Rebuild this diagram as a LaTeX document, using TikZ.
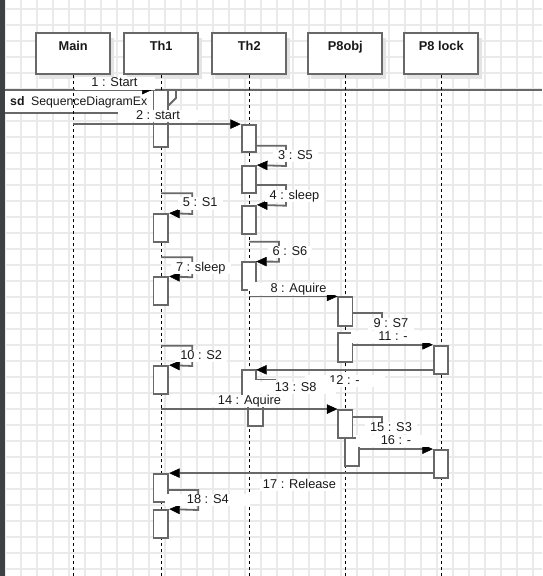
\documentclass[tikz,border=0pt]{standalone}
\usepackage{fontspec}
\setmainfont{Liberation Sans}
\usetikzlibrary{arrows.meta,fit}
\definecolor{gridc}{RGB}{234,234,234}
\definecolor{edgec}{RGB}{104,104,104}
\definecolor{barc}{RGB}{62,65,68}
\definecolor{shadc}{RGB}{228,228,228}
\definecolor{txtc}{RGB}{25,25,25}
\begin{document}
\begin{tikzpicture}[x=1pt,y=-1pt,
  gridline/.style={draw=gridc, line width=1.4pt},
  objbox/.style={draw=edgec, line width=1.8pt, fill=white, inner sep=0pt},
  objtitle/.style={font=\fontsize{12.8}{15}\selectfont\bfseries, text=txtc, inner sep=0pt, anchor=base},
  lifeline/.style={draw=black, line width=1.1pt, dash pattern=on 3pt off 3pt},
  actbox/.style={draw=edgec, line width=1.8pt, fill=white, inner sep=0pt},
  actfill/.style={fill=white, draw=none, inner sep=0pt},
  actedge/.style={draw=edgec, line width=1.8pt},
  msgline/.style={draw=edgec, line width=1.8pt},
  msgarrow/.style={msgline, -{Triangle[length=10.5pt,width=9.5pt,color=black,fill=black,line width=0.5pt]}},
  msglabel/.style={fill=white, text=txtc, font=\fontsize{12.8}{15}\selectfont, inner xsep=5pt, inner ysep=0.5pt, text height=9pt, text depth=2.5pt, anchor=base},
  widelabel/.style={msglabel, minimum width=80pt, inner xsep=0pt}
]
\useasboundingbox (0,0) rectangle (542,576);
\fill[white] (0,0) rectangle (542,576);
% grid
\foreach \gx in {5,21,...,533} \draw[gridline] (\gx,0) -- (\gx,576);
\foreach \gy in {9,25,...,569} \draw[gridline] (0,\gy) -- (542,\gy);
% left bar
\fill[barc] (0,0) rectangle (5,576);

% frame
\draw[msgline] (5,90) -- (542,90);
\draw[actedge, fill=white] (5,90) -- (176,90) -- (176,98) -- (161,113) -- (5,113);
\node[anchor=base west, inner sep=0pt, text=txtc, font=\fontsize{12.3}{15}\selectfont] (sdlabel) at (10,105.5) {\textbf{sd}\hspace{6.5pt}SequenceDiagramEx};

% objects
\fill[shadc] (39.2,38) rectangle (114.2,79);
\fill[shadc] (127.2,38) rectangle (202.2,79);
\fill[shadc] (215.3,38) rectangle (290.3,79);
\fill[shadc] (311.3,38) rectangle (386.3,79);
\fill[shadc] (407.3,38) rectangle (482.3,79);
\node[objbox, fit={(36.2,33) (110.2,74)}] (Main) {};
\node[objbox, fit={(124.2,33) (198.2,74)}] (Th1) {};
\node[objbox, fit={(212.3,33) (286.3,74)}] (Th2) {};
\node[objbox, fit={(308.3,33) (382.3,74)}] (P8obj) {};
\node[objbox, fit={(404.3,33) (478.3,74)}] (P8lock) {};
\node[objtitle] (MainT) at (Main.north |- 0,50.7) {Main};
\node[objtitle] (Th1T) at (Th1.north |- 0,50.7) {Th1};
\node[objtitle] (Th2T) at (Th2.north |- 0,50.7) {Th2};
\node[objtitle] (P8objT) at (P8obj.north |- 0,50.7) {P8obj};
\node[objtitle] (P8lockT) at (P8lock.north |- 0,50.7) {P8 lock};

% lifelines
\foreach \o in {Main,Th1,Th2,P8obj,P8lock}
  \draw[lifeline] (\o.south) -- (\o.south |- 0,576);

% activations Th1
\node[actbox, fit={(153.5,90.5) (168.3,147)}] (A1) {};
\node[actbox, fit={(153.5,214) (168.3,241.7)}] (A2) {};
\node[actbox, fit={(153.5,277.3) (168.3,305)}] (A3) {};
\node[actbox, fit={(153.5,366) (168.3,394)}] (A4) {};
\node[actbox, fit={(153.5,474) (168.3,501.7)}] (A5) {};
\node[actbox, fit={(153.5,510) (168.3,538.3)}] (A6) {};
% activations Th2
\node[actbox, fit={(241.7,125) (256,152.3)}] (B1) {};
\node[actbox, fit={(241.7,166) (256,193.3)}] (B2) {};
\node[actbox, fit={(241.7,205.7) (256,234)}] (B3) {};
\node[actfill, fit={(241.7,261.7) (256,290)}] (B4) {};
\draw[actedge] (256,281.7) -- (256,261.7) -- (241.7,261.7) -- (241.7,290) -- (248,290);
\node[actfill, fit={(241.7,370) (256,398)}] (B5) {};
\draw[actedge] (256,379.5) -- (256,370) -- (241.7,370) -- (241.7,398);
\node[actfill, fit={(248.3,403) (263.3,426)}] (B6) {};
\draw[actedge] (248.3,403) -- (248.3,426) -- (263.3,426) -- (263.3,403);
% activations P8obj
\node[actbox, fit={(338.3,297.3) (352.5,325.7)}] (C1) {};
\node[actfill, fit={(338.3,332.7) (352.5,361.7)}] (C2) {};
\draw[actedge] (352.5,343) -- (352.5,361.7) -- (338.3,361.7) -- (338.3,332.7) -- (351,332.7);
\node[actbox, fit={(338.3,410) (352.5,437.7)}] (C3) {};
\node[actbox, fit={(345,437.7) (359.3,465.7)}] (C4) {};
% activations P8 lock
\node[actbox, fit={(433.8,345.7) (448.3,374)}] (D1) {};
\node[actbox, fit={(433.8,450) (448.3,477.7)}] (D2) {};

% messages
\draw[msgarrow] (Main |- A1.north west) -- (A1.north west);
\draw[msgarrow] (Main |- B1.north west) -- (B1.north west);
\draw[msgarrow] (B1.east |- 0,145.7) -| (286,166) -- (B2.north east);
\draw[msgarrow] (B2.east |- 0,185) -| (286,205.7) -- (B3.north east);
\draw[msgarrow] (Th1 |- 0,193.3) -| (192.3,214) -- (A2.north east);
\draw[msgarrow] (Th2 |- 0,241.7) -| (279,261.7) -- (B4.north east);
\draw[msgarrow] (Th1 |- 0,257.3) -| (192.3,277.3) -- (A3.north east);
\draw[msgarrow] (Th2 |- C1.north west) -- (C1.north west);
\draw[msgline] (C1.east |- 0,313.3) -| (382.3,320);
\draw[msgarrow] (Th1 |- 0,345.7) -| (192.3,366) -- (A4.north east);
\draw[msgarrow] (C2.east |- D1.north west) -- (D1.north west);
\draw[msgarrow] (D1.west |- B5.north east) -- (B5.north east);
\draw[msgline] (B5.north east |- 0,379.5) -- (276,379.5);
\draw[msgarrow] (Th1 |- C3.north west) -- (C3.north west);
\draw[msgline] (C3.east |- 0,417.3) -| (381.7,425);
\draw[msgarrow] (C4.east |- D2.north west) -- (D2.north west);
\draw[msgarrow] (D2.west |- A5.north east) -- (A5.north east);
\draw[msgarrow] (A5.east |- 0,490) -| (198.3,510) -- (A6.north east);

% labels
\node[widelabel] (l1) at (114.5,86.7) {1 : Start};
\node[widelabel] (l2) at (158,119) {2 : start};
\node[msglabel] (l3) at (295.5,159.3) {3 : S5};
\node[msglabel] (l4) at (294.5,199.3) {4 : sleep};
\node[msglabel] (l5) at (200.3,206.7) {5 : S1};
\node[msglabel] (l6) at (290,255) {6 : S6};
\node[msglabel] (l7) at (200.8,271) {7 : sleep};
\node[widelabel] (l8) at (298.5,292) {8 : Aquire};
\node[msglabel, inner xsep=6pt] (l9) at (391,327.3) {9 : S7};
\node[msglabel] (l10) at (201.2,359.3) {10 : S2};
\node[widelabel] (l11) at (393,340) {11 : -};
\node[widelabel] (l12) at (344.5,384) {12 : -};
\node[widelabel] (l13) at (295.7,391) {13 : S8};
\node[widelabel] (l14) at (249.5,404) {14 : Aquire};
\node[msglabel] (l15) at (391,431) {15 : S3};
\node[widelabel] (l16) at (396,444.3) {16 : -};
\node[widelabel] (l17) at (299.5,488.3) {17 : Release};
\node[msglabel, minimum width=85pt, inner xsep=0pt] (l18) at (207.8,503.3) {18 : S4};
\end{tikzpicture}
\end{document}
